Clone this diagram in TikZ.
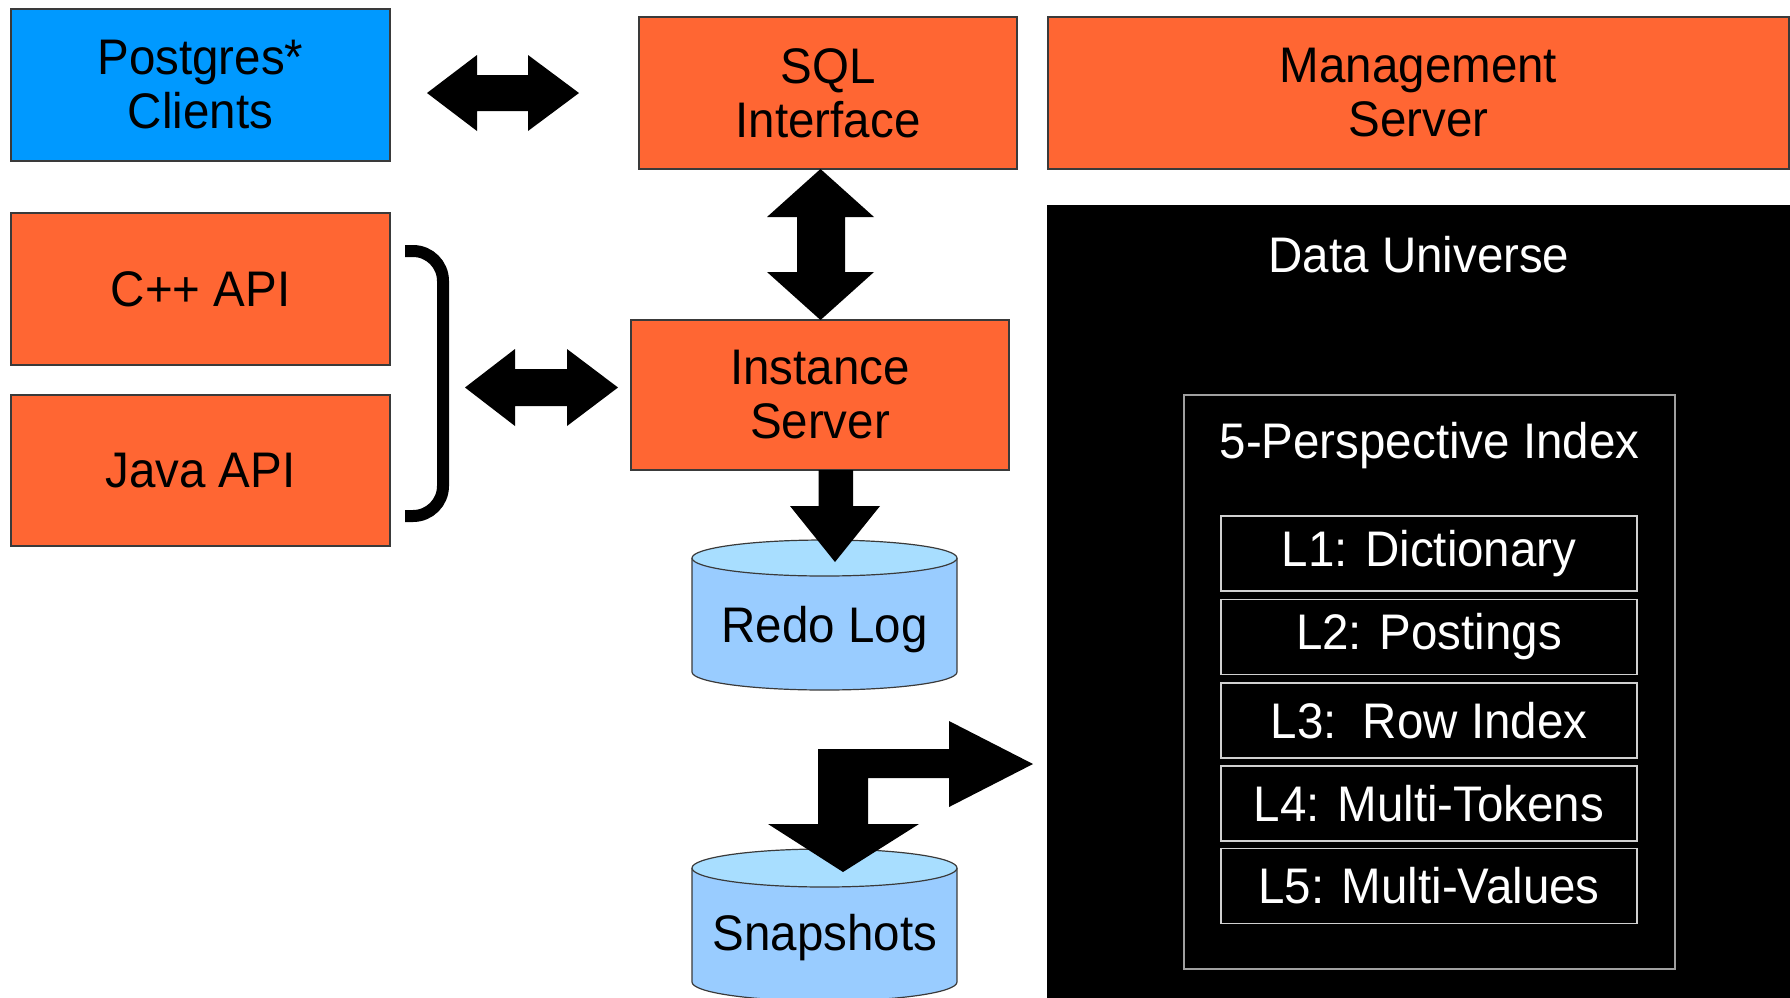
\documentclass[tikz,border=0pt]{standalone}
\usepackage{fontspec}
\setmainfont{Liberation Sans}[FakeStretch=0.95]
\definecolor{orng}{HTML}{FF6633}
\definecolor{pgblue}{HTML}{0099FF}
\definecolor{boxline}{HTML}{3A3A3A}
\definecolor{cylbody}{HTML}{99CCFF}
\definecolor{cyltop}{HTML}{A8DEFF}
\definecolor{innerline}{HTML}{A0A0A0}
\definecolor{lline}{HTML}{D0D0D0}
\begin{document}
\begin{tikzpicture}[x=1pt,y=-1pt,
  txt/.style={font=\fontsize{50}{54}\selectfont, align=center, inner sep=0pt},
  obox/.style={txt, rectangle, draw=boxline, line width=1.2pt, fill=orng},
  lbox/.style={txt, rectangle, draw=lline, line width=1.5pt, fill=black, text=white,
    minimum width=416pt, minimum height=75pt},
  blockarrow/.style={fill=black},
  cylside/.style={draw=boxline, line width=1.2pt},
  brace/.style={draw=black, line width=12pt, rounded corners=30pt}]
\useasboundingbox (0,0) rectangle (1790,997);
\clip (0,0) rectangle (1790,997);

% top row
\node[obox, fill=pgblue, minimum width=379pt, minimum height=152pt] (pg) at (200.5,85) {Postgres*\\Clients};
\node[obox, minimum width=378pt, minimum height=152pt] (sql) at (828,93) {SQL\\Interface};
\node[obox, minimum width=741pt, minimum height=152pt] (mgmt) at (1418.5,93) {Management\\Server};

% APIs
\node[obox, minimum width=379pt, minimum height=152pt] (cpp) at (200.5,289) {C++ API};
\node[obox, minimum width=379pt, minimum height=151pt] (java) at (200.5,470.5) {Java API};

% instance server
\node[obox, minimum width=378pt, minimum height=150pt] (inst) at (820,395) {Instance\\Server};

% data universe
\fill[black] (1047,205) rectangle (1800,1005);
\node[txt, text=white, anchor=base] (dut) at (1419,272) {Data Universe};
\draw[draw=innerline, line width=1.5pt] (1184,395) rectangle (1675,969);
\node[txt, text=white, anchor=base] (pit) at (1429.5,458) {5-Perspective Index};
\node[lbox] (l1) at (1429,553.5) {L1: Dictionary};
\node[lbox] (l2) at (1429,637) {L2: Postings};
\node[lbox] (l3) at (1429,720.5) {L3:\ \ Row Index};
\node[lbox] (l4) at (1429,803.5) {L4: Multi-Tokens};
\node[lbox] (l5) at (1429,886) {L5: Multi-Values};

% Redo log cylinder
\fill[cylbody] (692,558) rectangle (957,672);
\fill[cylbody] (824.5,672) ellipse [x radius=132.5pt, y radius=18pt];
\draw[cylside] (692,558) -- (692,672) arc[start angle=180, end angle=360, x radius=132.5pt, y radius=18pt] -- (957,558);
\filldraw[fill=cyltop, cylside] (824.5,558) ellipse [x radius=132.5pt, y radius=18pt];
\node[txt, anchor=base] (redo) at (824.5,642) {Redo Log};

% Snapshots cylinder
\fill[cylbody] (692,868) rectangle (957,982);
\fill[cylbody] (824.5,982) ellipse [x radius=132.5pt, y radius=19pt];
\draw[cylside] (692,868) -- (692,982) arc[start angle=180, end angle=360, x radius=132.5pt, y radius=19pt] -- (957,868);
\filldraw[fill=cyltop, cylside] (824.5,868) ellipse [x radius=132.5pt, y radius=19pt];
\node[txt, anchor=base] (snap) at (825,950) {Snapshots};

% block arrows
\fill[blockarrow] (427,93) -- (477,55) -- (477,75) -- (528,75) -- (528,55) -- (579,93)
  -- (528,131) -- (528,111) -- (477,111) -- (477,131) -- cycle;
\fill[blockarrow] (820.5,169) -- (874,217) -- (845,217) -- (845,272) -- (874,272) -- (820.5,320)
  -- (767,272) -- (797,272) -- (797,217) -- (767,217) -- cycle;
\fill[blockarrow] (465,387.5) -- (515,349) -- (515,369) -- (567,369) -- (567,349) -- (618,387.5)
  -- (567,426) -- (567,406) -- (515,406) -- (515,426) -- cycle;
\fill[blockarrow] (818.5,470) -- (853,470) -- (853,506) -- (880,506) -- (835,562) -- (790,506)
  -- (818.5,506) -- cycle;
\fill[blockarrow] (818,749) -- (949,749) -- (949,721) -- (1033,764) -- (949,807) -- (949,778)
  -- (868,778) -- (868,824) -- (919,824) -- (843,872) -- (768,824) -- (818,824) -- cycle;

% bracket
\draw[brace] (405,251) -- (443,251) -- (443,516) -- (405,516);
\end{tikzpicture}
\end{document}
